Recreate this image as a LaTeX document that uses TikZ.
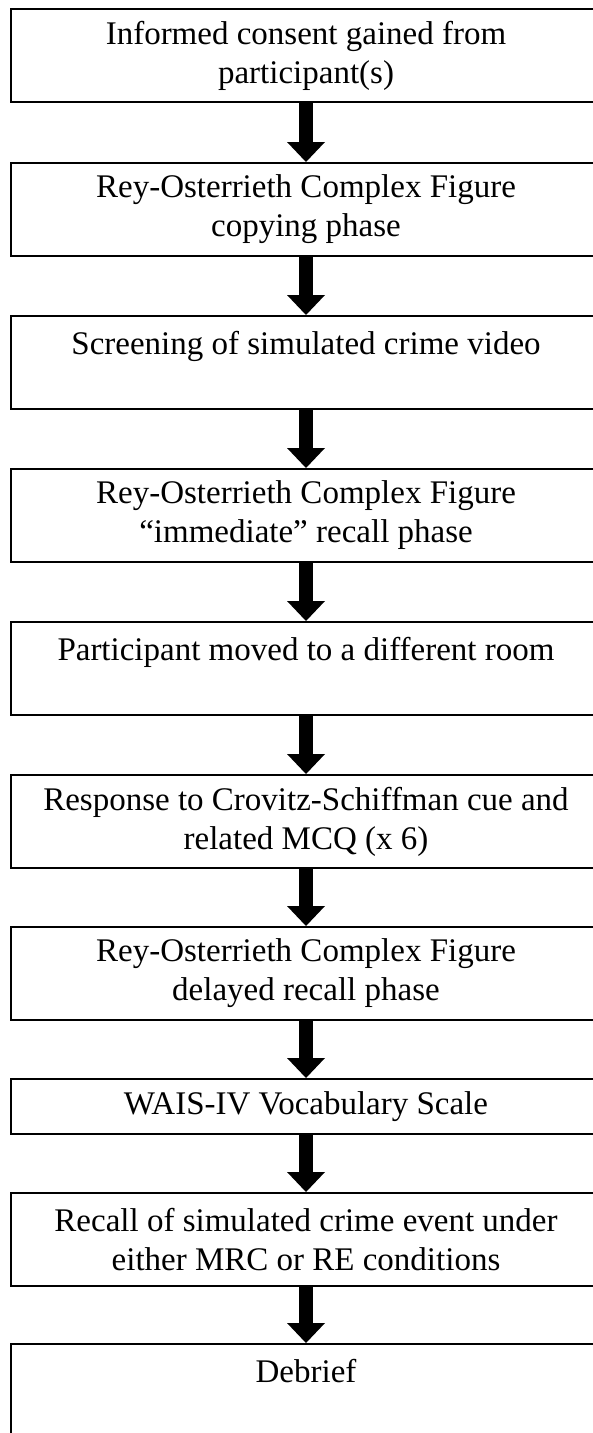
\documentclass[tikz,border=0pt]{standalone}
\usepackage{fontspec}
\setmainfont{Liberation Serif}
\usetikzlibrary{arrows.meta}
\begin{document}
\begin{tikzpicture}[x=1pt,y=1pt,
  stepbox/.style={draw=black, line width=2pt, rectangle, anchor=north,
    minimum width=590pt, minimum height=93pt, align=center, inner sep=0pt,
    font=\fontsize{33}{39}\selectfont},
  flowarrow/.style={line width=14pt, black,
    -{Triangle[width=38pt,length=20pt,line width=0pt]}}
]
\useasboundingbox (0,0) rectangle (593,-1433);
\clip (0,0) rectangle (593,-1433);
\fill[white] (0,0) rectangle (593,-1433);

\node[stepbox] (b1)  at (306,-8)    {Informed consent gained from\\participant(s)};
\node[stepbox] (b2)  at (306,-162)  {Rey-Osterrieth Complex Figure\\copying phase};
\node[stepbox] (b3)  at (306,-315)  {Screening of simulated crime video\\\mbox{}};
\node[stepbox] (b4)  at (306,-468)  {Rey-Osterrieth Complex Figure\\“immediate” recall phase};
\node[stepbox] (b5)  at (306,-621)  {Participant moved to a different room\\\mbox{}};
\node[stepbox] (b6)  at (306,-774)  {Response to Crovitz-Schiffman cue and\\related MCQ (x 6)};
\node[stepbox] (b7)  at (306,-926)  {Rey-Osterrieth Complex Figure\\delayed recall phase};
\node[stepbox, minimum height=55pt] (b8) at (306,-1078) {WAIS-IV Vocabulary Scale};
\node[stepbox] (b9)  at (306,-1192) {Recall of simulated crime event under\\either MRC or RE conditions};
\node[stepbox] (b10) at (306,-1343) {Debrief\\\mbox{}};

\draw[flowarrow] (b1.south) -- (b2.north);
\draw[flowarrow] (b2.south) -- (b3.north);
\draw[flowarrow] (b3.south) -- (b4.north);
\draw[flowarrow] (b4.south) -- (b5.north);
\draw[flowarrow] (b5.south) -- (b6.north);
\draw[flowarrow] (b6.south) -- (b7.north);
\draw[flowarrow] (b7.south) -- (b8.north);
\draw[flowarrow] (b8.south) -- (b9.north);
\draw[flowarrow] (b9.south) -- (b10.north);
\end{tikzpicture}
\end{document}
